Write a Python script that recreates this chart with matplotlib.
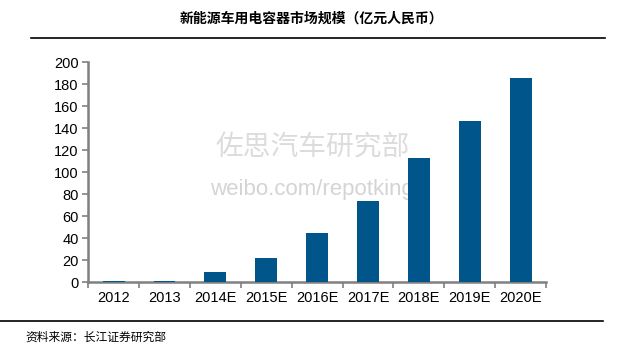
import matplotlib.pyplot as plt
import numpy as np

plt.rcParams['font.family'] = ['Liberation Sans', 'Noto Sans CJK SC', 'DejaVu Sans']

# Data
years = ['2012', '2013', '2014E', '2015E', '2016E', '2017E', '2018E', '2019E', '2020E']
market = [1.5, 1.5, 9, 22.5, 45, 73.5, 113, 146.5, 186]

bar_color = '#00558A'
axis_color = '#808080'

fig = plt.figure(figsize=(6.44, 3.52), dpi=100, facecolor='white')
ax = fig.add_axes([0.137, 0.198, 0.711, 0.625])

x = np.arange(len(years))
ax.bar(x, market, width=0.43, color=bar_color, zorder=3)

ax.set_xlim(-0.5, len(years) - 0.5)
ax.set_ylim(0, 200)
ax.set_yticks(np.arange(0, 201, 20))
ax.set_yticklabels([str(v) for v in range(0, 201, 20)], fontsize=10.5)

# x ticks at category boundaries, labels at centres
ax.set_xticks(np.arange(-0.5, len(years), 1))
ax.set_xticklabels([])
ax.set_xticks(x, minor=True)
ax.set_xticklabels(years, minor=True, fontsize=10.5)
ax.tick_params(axis='x', which='minor', length=0, pad=6)
ax.tick_params(axis='x', which='major', length=4, color=axis_color, width=1.2, direction='out')
ax.tick_params(axis='y', length=4, color=axis_color, width=1.2, direction='out', pad=3)

for s in ['top', 'right']:
    ax.spines[s].set_visible(False)
for s in ['left', 'bottom']:
    ax.spines[s].set_color(axis_color)
    ax.spines[s].set_linewidth(1.8)

# Title and rules
fig.text(0.483, 0.948, '新能源车用电容器市场规模（亿元人民币）', ha='center', va='center',
         fontsize=10, fontweight='bold', family=['Noto Sans CJK SC', 'DejaVu Sans'])
fig.add_artist(plt.Line2D([0.048, 0.939], [0.892, 0.892], color='black', linewidth=1.2))
fig.add_artist(plt.Line2D([0.0, 0.936], [0.088, 0.088], color='black', linewidth=1.2))
fig.text(0.04, 0.042, '资料来源：长江证券研究部', ha='left', va='center',
         fontsize=8.5, family=['Noto Sans CJK SC', 'DejaVu Sans'])

# Watermark (behind the bars)
ax.text(0.486, 0.58, '佐思汽车研究部', transform=fig.transFigure, ha='center', va='center',
        fontsize=20, color='#dcdcdc', family=['Noto Sans CJK SC', 'DejaVu Sans'], zorder=1)
ax.text(0.484, 0.462, 'weibo.com/repotking', transform=fig.transFigure, ha='center',
        va='center', fontsize=16, color='#d4d4d4', zorder=1)

fig.savefig('out.png', dpi=100, facecolor='white')
